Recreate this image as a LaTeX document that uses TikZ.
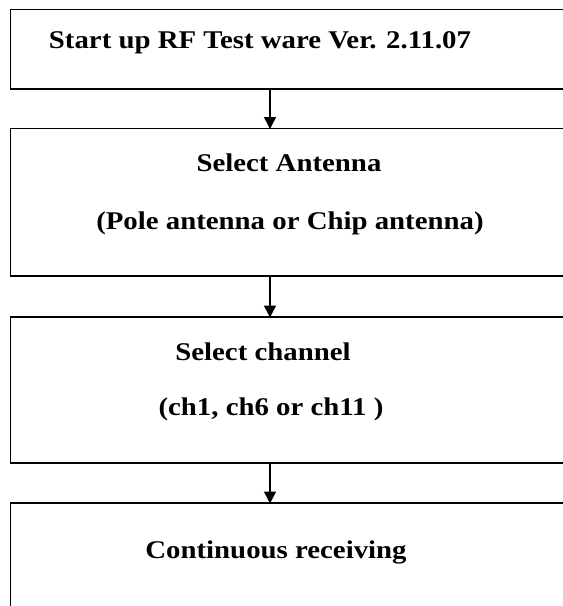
\documentclass[tikz,border=0pt]{standalone}
\usepackage{fontspec}
\setmainfont[FakeStretch=1.13]{Liberation Serif}
\usetikzlibrary{arrows.meta}
\def\boxleft{10.5}
\def\boxright{600}
\def\flowx{270}
\tikzset{
    stagebox/.style={draw, line width=1.6pt},
    stagetext/.style={anchor=base, inner sep=0pt, font=\fontsize{25.5}{30}\selectfont\bfseries},
    flow/.style={-{Triangle[width=12pt,length=12pt]}, line width=1.6pt, shorten >=-0.5pt}
}
\newcommand{\stage}[3]{
    \draw[stagebox] (\boxleft,#2) rectangle (\boxright,#3);
    \coordinate (#1top) at (\flowx,#2);
    \coordinate (#1bot) at (\flowx,#3);
}
\newcommand{\stagelabel}[4]{
    \node[stagetext] (#1) at (#2,#3) {#4};
}

\begin{document}
\begin{tikzpicture}[x=1pt,y=-1pt]
    \path[use as bounding box, clip] (0,0) rectangle (563,606);
    \stage{start}{9.5}{89}
    \stage{antenna}{128.5}{276}
    \stage{channel}{317}{463}
    \stage{receive}{503}{640}
    \stagelabel{starttext}{260}{48}{Start up RF Test ware Ver. 2.11.07}
    \stagelabel{antennatext}{289}{171.5}{Select Antenna}
    \stagelabel{antennasub}{290}{229}{(Pole antenna or Chip antenna)}
    \stagelabel{channeltext}{263}{360}{Select channel}
    \stagelabel{channelsub}{271}{415}{(ch1, ch6 or ch11 )}
    \stagelabel{receivetext}{276}{558}{Continuous receiving}
    \draw[flow] (startbot) -- (antennatop);
    \draw[flow] (antennabot) -- (channeltop);
    \draw[flow] (channelbot) -- (receivetop);
\end{tikzpicture}
\end{document}
